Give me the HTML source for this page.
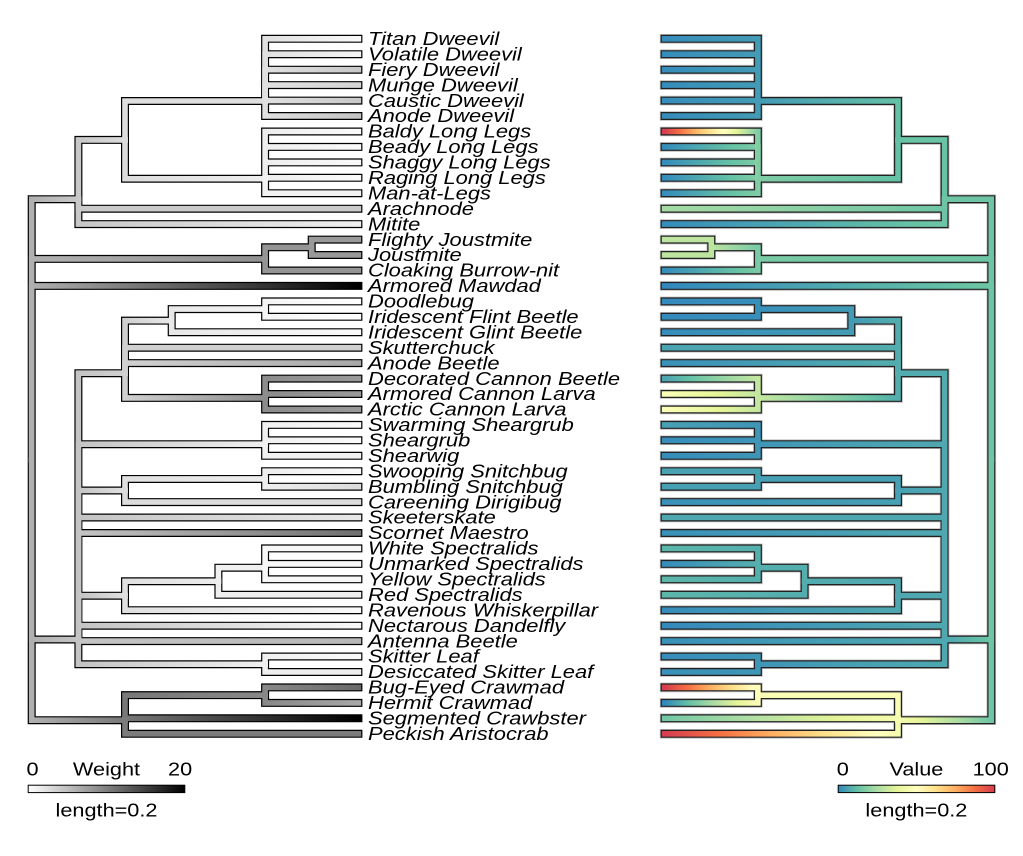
<!DOCTYPE html>
<html><head><meta charset="utf-8"><style>
html,body{margin:0;padding:0;background:#fff;}
svg{display:block;}
</style></head><body>
<svg width="1023" height="856" viewBox="0 0 1023 856" xmlns="http://www.w3.org/2000/svg" xmlns:xlink="http://www.w3.org/1999/xlink">
<defs>
<path id="LB" d="M31.7 459.7V199.2H78.4M31.7 459.7V258.9H265.1M31.7 459.7V285.9H358.4M31.7 459.7V639.5H78.4M31.7 459.7V720.2H125M78.4 199.2V139.9H125M78.4 199.2V208.7H358.4M78.4 199.2V224.1H358.4M125 139.9V101H265.1M125 139.9V178.75H265.1M265.1 101V38.8H358.4M265.1 101V54.2H358.4M265.1 101V69.7H358.4M265.1 101V85.1H358.4M265.1 101V100.6H358.4M265.1 101V116H358.4M265.1 178.75V131.5H358.4M265.1 178.75V146.9H358.4M265.1 178.75V162.4H358.4M265.1 178.75V177.8H358.4M265.1 178.75V193.2H358.4M265.1 258.9V247.3H311.7M265.1 258.9V270.5H358.4M311.7 247.3V239.6H358.4M311.7 247.3V255H358.4M78.4 639.5V373.2H125M78.4 639.5V444.2H265.1M78.4 639.5V490.5H125M78.4 639.5V517.5H358.4M78.4 639.5V533H358.4M78.4 639.5V595.7H125M78.4 639.5V625.7H358.4M78.4 639.5V641.1H358.4M78.4 639.5V664.25H265.1M125 373.2V320.65H171.7M125 373.2V347.7H358.4M125 373.2V363.1H358.4M125 373.2V397.9H265.1M171.7 320.65V309.1H265.1M171.7 320.65V332.2H358.4M265.1 309.1V301.4H358.4M265.1 309.1V316.8H358.4M265.1 397.9V378.6H358.4M265.1 397.9V394H358.4M265.1 397.9V409.5H358.4M265.1 444.2V424.9H358.4M265.1 444.2V440.3H358.4M265.1 444.2V455.8H358.4M125 490.5V478.95H265.1M125 490.5V502.1H358.4M265.1 478.95V471.2H358.4M265.1 478.95V486.7H358.4M125 595.7V581.25H218.4M125 595.7V610.2H358.4M218.4 581.25V567.7H265.1M218.4 581.25V594.8H358.4M265.1 567.7V548.4H358.4M265.1 567.7V563.9H358.4M265.1 567.7V579.3H358.4M265.1 664.25V656.5H358.4M265.1 664.25V672H358.4M125 720.2V695.15H265.1M125 720.2V718.3H358.4M125 720.2V733.8H358.4M265.1 695.15V687.4H358.4M265.1 695.15V702.9H358.4"/>
<path id="RB" d="M991.3 459.7V199.2H944.6M991.3 459.7V258.9H757.9M991.3 459.7V285.9H664.6M991.3 459.7V639.5H944.6M991.3 459.7V720.2H898M944.6 199.2V139.9H898M944.6 199.2V208.7H664.6M944.6 199.2V224.1H664.6M898 139.9V101H757.9M898 139.9V178.75H757.9M757.9 101V38.8H664.6M757.9 101V54.2H664.6M757.9 101V69.7H664.6M757.9 101V85.1H664.6M757.9 101V100.6H664.6M757.9 101V116H664.6M757.9 178.75V131.5H664.6M757.9 178.75V146.9H664.6M757.9 178.75V162.4H664.6M757.9 178.75V177.8H664.6M757.9 178.75V193.2H664.6M757.9 258.9V247.3H711.3M757.9 258.9V270.5H664.6M711.3 247.3V239.6H664.6M711.3 247.3V255H664.6M944.6 639.5V373.2H898M944.6 639.5V444.2H757.9M944.6 639.5V490.5H898M944.6 639.5V517.5H664.6M944.6 639.5V533H664.6M944.6 639.5V595.7H898M944.6 639.5V625.7H664.6M944.6 639.5V641.1H664.6M944.6 639.5V664.25H757.9M898 373.2V320.65H851.3M898 373.2V347.7H664.6M898 373.2V363.1H664.6M898 373.2V397.9H757.9M851.3 320.65V309.1H757.9M851.3 320.65V332.2H664.6M757.9 309.1V301.4H664.6M757.9 309.1V316.8H664.6M757.9 397.9V378.6H664.6M757.9 397.9V394H664.6M757.9 397.9V409.5H664.6M757.9 444.2V424.9H664.6M757.9 444.2V440.3H664.6M757.9 444.2V455.8H664.6M898 490.5V478.95H757.9M898 490.5V502.1H664.6M757.9 478.95V471.2H664.6M757.9 478.95V486.7H664.6M898 595.7V581.25H804.6M898 595.7V610.2H664.6M804.6 581.25V567.7H757.9M804.6 581.25V594.8H664.6M757.9 567.7V548.4H664.6M757.9 567.7V563.9H664.6M757.9 567.7V579.3H664.6M757.9 664.25V656.5H664.6M757.9 664.25V672H664.6M898 720.2V695.15H757.9M898 720.2V718.3H664.6M898 720.2V733.8H664.6M757.9 695.15V687.4H664.6M757.9 695.15V702.9H664.6"/>

<linearGradient id="a1" gradientUnits="userSpaceOnUse" x1="31.7" x2="78.4"><stop offset="0" stop-color="#b0b0b0"/><stop offset="1" stop-color="#c8c8c8"/></linearGradient>
<linearGradient id="a2" gradientUnits="userSpaceOnUse" x1="31.7" x2="265.1"><stop offset="0" stop-color="#b0b0b0"/><stop offset="1" stop-color="#909090"/></linearGradient>
<linearGradient id="a3" gradientUnits="userSpaceOnUse" x1="31.7" x2="358.4"><stop offset="0" stop-color="#b0b0b0"/><stop offset="1" stop-color="#000000"/></linearGradient>
<linearGradient id="a4" gradientUnits="userSpaceOnUse" x1="31.7" x2="78.4"><stop offset="0" stop-color="#b0b0b0"/><stop offset="1" stop-color="#c4c4c4"/></linearGradient>
<linearGradient id="a5" gradientUnits="userSpaceOnUse" x1="31.7" x2="125"><stop offset="0" stop-color="#b0b0b0"/><stop offset="1" stop-color="#787878"/></linearGradient>
<linearGradient id="a6" gradientUnits="userSpaceOnUse" x1="78.4" x2="125"><stop offset="0" stop-color="#c8c8c8"/><stop offset="1" stop-color="#dcdcdc"/></linearGradient>
<linearGradient id="a8" gradientUnits="userSpaceOnUse" x1="78.4" x2="358.4"><stop offset="0" stop-color="#c8c8c8"/><stop offset="1" stop-color="#f0f0f0"/></linearGradient>
<linearGradient id="a10" gradientUnits="userSpaceOnUse" x1="125" x2="265.1"><stop offset="0" stop-color="#dcdcdc"/><stop offset="1" stop-color="#eeeeee"/></linearGradient>
<linearGradient id="d1" gradientUnits="userSpaceOnUse" x1="265.1" x2="358.4"><stop offset="0" stop-color="#e0e0e0"/><stop offset="1" stop-color="#f8f8f8"/></linearGradient>
<linearGradient id="d2" gradientUnits="userSpaceOnUse" x1="265.1" x2="358.4"><stop offset="0" stop-color="#e0e0e0"/><stop offset="1" stop-color="#f4f4f4"/></linearGradient>
<linearGradient id="d3" gradientUnits="userSpaceOnUse" x1="265.1" x2="358.4"><stop offset="0" stop-color="#e0e0e0"/><stop offset="1" stop-color="#c8c8c8"/></linearGradient>
<linearGradient id="d4" gradientUnits="userSpaceOnUse" x1="265.1" x2="358.4"><stop offset="0" stop-color="#e0e0e0"/><stop offset="1" stop-color="#d4d4d4"/></linearGradient>
<linearGradient id="d6" gradientUnits="userSpaceOnUse" x1="265.1" x2="358.4"><stop offset="0" stop-color="#e0e0e0"/><stop offset="1" stop-color="#c4c4c4"/></linearGradient>
<linearGradient id="lg" gradientUnits="userSpaceOnUse" x1="265.1" x2="358.4"><stop offset="0" stop-color="#eeeeee"/><stop offset="1" stop-color="#fafafa"/></linearGradient>
<linearGradient id="m1" gradientUnits="userSpaceOnUse" x1="78.4" x2="125"><stop offset="0" stop-color="#c4c4c4"/><stop offset="1" stop-color="#d0d0d0"/></linearGradient>
<linearGradient id="m2" gradientUnits="userSpaceOnUse" x1="78.4" x2="265.1"><stop offset="0" stop-color="#c4c4c4"/><stop offset="1" stop-color="#f0f0f0"/></linearGradient>
<linearGradient id="m3" gradientUnits="userSpaceOnUse" x1="78.4" x2="125"><stop offset="0" stop-color="#c4c4c4"/><stop offset="1" stop-color="#e0e0e0"/></linearGradient>
<linearGradient id="m4" gradientUnits="userSpaceOnUse" x1="78.4" x2="358.4"><stop offset="0" stop-color="#c4c4c4"/><stop offset="1" stop-color="#e8e8e8"/></linearGradient>
<linearGradient id="m5" gradientUnits="userSpaceOnUse" x1="78.4" x2="358.4"><stop offset="0" stop-color="#c4c4c4"/><stop offset="1" stop-color="#707070"/></linearGradient>
<linearGradient id="m7" gradientUnits="userSpaceOnUse" x1="78.4" x2="358.4"><stop offset="0" stop-color="#c4c4c4"/><stop offset="1" stop-color="#f8f8f8"/></linearGradient>
<linearGradient id="m8" gradientUnits="userSpaceOnUse" x1="78.4" x2="358.4"><stop offset="0" stop-color="#c4c4c4"/><stop offset="1" stop-color="#b8b8b8"/></linearGradient>
<linearGradient id="e1" gradientUnits="userSpaceOnUse" x1="125" x2="171.7"><stop offset="0" stop-color="#d0d0d0"/><stop offset="1" stop-color="#e8e8e8"/></linearGradient>
<linearGradient id="e3" gradientUnits="userSpaceOnUse" x1="125" x2="358.4"><stop offset="0" stop-color="#d0d0d0"/><stop offset="1" stop-color="#a8a8a8"/></linearGradient>
<linearGradient id="e4" gradientUnits="userSpaceOnUse" x1="125" x2="265.1"><stop offset="0" stop-color="#d0d0d0"/><stop offset="1" stop-color="#8c8c8c"/></linearGradient>
<linearGradient id="g1" gradientUnits="userSpaceOnUse" x1="171.7" x2="265.1"><stop offset="0" stop-color="#e8e8e8"/><stop offset="1" stop-color="#f4f4f4"/></linearGradient>
<linearGradient id="g2" gradientUnits="userSpaceOnUse" x1="171.7" x2="358.4"><stop offset="0" stop-color="#e8e8e8"/><stop offset="1" stop-color="#fafafa"/></linearGradient>
<linearGradient id="do" gradientUnits="userSpaceOnUse" x1="265.1" x2="358.4"><stop offset="0" stop-color="#f4f4f4"/><stop offset="1" stop-color="#ffffff"/></linearGradient>
<linearGradient id="ca" gradientUnits="userSpaceOnUse" x1="265.1" x2="358.4"><stop offset="0" stop-color="#8c8c8c"/><stop offset="1" stop-color="#999999"/></linearGradient>
<linearGradient id="sh" gradientUnits="userSpaceOnUse" x1="265.1" x2="358.4"><stop offset="0" stop-color="#f0f0f0"/><stop offset="1" stop-color="#fafafa"/></linearGradient>
<linearGradient id="s1" gradientUnits="userSpaceOnUse" x1="125" x2="265.1"><stop offset="0" stop-color="#e0e0e0"/><stop offset="1" stop-color="#eeeeee"/></linearGradient>
<linearGradient id="sn2" gradientUnits="userSpaceOnUse" x1="265.1" x2="358.4"><stop offset="0" stop-color="#eeeeee"/><stop offset="1" stop-color="#dcdcdc"/></linearGradient>
<linearGradient id="p1" gradientUnits="userSpaceOnUse" x1="125" x2="218.4"><stop offset="0" stop-color="#e0e0e0"/><stop offset="1" stop-color="#ececec"/></linearGradient>
<linearGradient id="p2" gradientUnits="userSpaceOnUse" x1="125" x2="358.4"><stop offset="0" stop-color="#e0e0e0"/><stop offset="1" stop-color="#fafafa"/></linearGradient>
<linearGradient id="c1" gradientUnits="userSpaceOnUse" x1="125" x2="265.1"><stop offset="0" stop-color="#787878"/><stop offset="1" stop-color="#888888"/></linearGradient>
<linearGradient id="c2" gradientUnits="userSpaceOnUse" x1="125" x2="358.4"><stop offset="0" stop-color="#787878"/><stop offset="1" stop-color="#000000"/></linearGradient>
<linearGradient id="c3" gradientUnits="userSpaceOnUse" x1="265.1" x2="358.4"><stop offset="0" stop-color="#888888"/><stop offset="1" stop-color="#6a6a6a"/></linearGradient>
<linearGradient id="c4" gradientUnits="userSpaceOnUse" x1="265.1" x2="358.4"><stop offset="0" stop-color="#888888"/><stop offset="1" stop-color="#a8a8a8"/></linearGradient>

<linearGradient id="r2" gradientUnits="userSpaceOnUse" x1="991.3" x2="757.9"><stop offset="0" stop-color="#6ec5a5"/><stop offset="1" stop-color="#79caa5"/></linearGradient>
<linearGradient id="r3" gradientUnits="userSpaceOnUse" x1="991.3" x2="664.6"><stop offset="0" stop-color="#6ec5a5"/><stop offset=".107" stop-color="#66c2a5"/><stop offset="1" stop-color="#3288bd"/></linearGradient>
<linearGradient id="r4" gradientUnits="userSpaceOnUse" x1="991.3" x2="944.6"><stop offset="0" stop-color="#6ec5a5"/><stop offset=".107" stop-color="#66c2a5"/><stop offset="1" stop-color="#4fa8b0"/></linearGradient>
<linearGradient id="r5" gradientUnits="userSpaceOnUse" x1="991.3" x2="898"><stop offset="0" stop-color="#6ec5a5"/><stop offset=".355" stop-color="#abdda4"/><stop offset=".758" stop-color="#e6f598"/><stop offset="1" stop-color="#f5fbaf"/></linearGradient>
<linearGradient id="r7" gradientUnits="userSpaceOnUse" x1="944.6" x2="664.6"><stop offset="0" stop-color="#6ec5a5"/><stop offset="1" stop-color="#a6dba4"/></linearGradient>
<linearGradient id="r8" gradientUnits="userSpaceOnUse" x1="944.6" x2="664.6"><stop offset="0" stop-color="#6ec5a5"/><stop offset=".115" stop-color="#66c2a5"/><stop offset="1" stop-color="#368dbb"/></linearGradient>
<linearGradient id="r9" gradientUnits="userSpaceOnUse" x1="898" x2="757.9"><stop offset="0" stop-color="#64c0a6"/><stop offset="1" stop-color="#439bb5"/></linearGradient>
<linearGradient id="r10" gradientUnits="userSpaceOnUse" x1="898" x2="757.9"><stop offset="0" stop-color="#64c0a6"/><stop offset=".1" stop-color="#66c2a5"/><stop offset="1" stop-color="#7fcca5"/></linearGradient>
<linearGradient id="rd" gradientUnits="userSpaceOnUse" x1="757.9" x2="664.6"><stop offset="0" stop-color="#439bb5"/><stop offset="1" stop-color="#368dbb"/></linearGradient>
<linearGradient id="rb" gradientUnits="userSpaceOnUse" x1="757.9" x2="664.6"><stop offset="0" stop-color="#7fcca5"/><stop offset=".096" stop-color="#abdda4"/><stop offset=".23" stop-color="#e6f598"/><stop offset=".37" stop-color="#ffffbf"/><stop offset=".53" stop-color="#fee08b"/><stop offset=".69" stop-color="#fdae61"/><stop offset=".845" stop-color="#f46d43"/><stop offset="1" stop-color="#d53e4f"/></linearGradient>
<linearGradient id="rl" gradientUnits="userSpaceOnUse" x1="757.9" x2="664.6"><stop offset="0" stop-color="#7fcca5"/><stop offset=".281" stop-color="#66c2a5"/><stop offset="1" stop-color="#368dbb"/></linearGradient>
<linearGradient id="rk1" gradientUnits="userSpaceOnUse" x1="757.9" x2="711.3"><stop offset="0" stop-color="#79caa5"/><stop offset=".75" stop-color="#abdda4"/><stop offset="1" stop-color="#b9e3a1"/></linearGradient>
<linearGradient id="rk2" gradientUnits="userSpaceOnUse" x1="757.9" x2="664.6"><stop offset="0" stop-color="#79caa5"/><stop offset=".233" stop-color="#66c2a5"/><stop offset="1" stop-color="#368dbb"/></linearGradient>
<linearGradient id="rm2" gradientUnits="userSpaceOnUse" x1="944.6" x2="757.9"><stop offset="0" stop-color="#4fa8b0"/><stop offset="1" stop-color="#3f96b7"/></linearGradient>
<linearGradient id="rm3" gradientUnits="userSpaceOnUse" x1="944.6" x2="898"><stop offset="0" stop-color="#4fa8b0"/><stop offset="1" stop-color="#47a0b3"/></linearGradient>
<linearGradient id="rm5" gradientUnits="userSpaceOnUse" x1="944.6" x2="664.6"><stop offset="0" stop-color="#4fa8b0"/><stop offset="1" stop-color="#3a91b9"/></linearGradient>
<linearGradient id="rm7" gradientUnits="userSpaceOnUse" x1="944.6" x2="664.6"><stop offset="0" stop-color="#4fa8b0"/><stop offset="1" stop-color="#348abc"/></linearGradient>
<linearGradient id="re1" gradientUnits="userSpaceOnUse" x1="898" x2="851.3"><stop offset="0" stop-color="#53adae"/><stop offset="1" stop-color="#439bb5"/></linearGradient>
<linearGradient id="re2" gradientUnits="userSpaceOnUse" x1="898" x2="664.6"><stop offset="0" stop-color="#53adae"/><stop offset="1" stop-color="#4ba4b1"/></linearGradient>
<linearGradient id="re3" gradientUnits="userSpaceOnUse" x1="898" x2="664.6"><stop offset="0" stop-color="#53adae"/><stop offset="1" stop-color="#3a91b9"/></linearGradient>
<linearGradient id="re4" gradientUnits="userSpaceOnUse" x1="898" x2="757.9"><stop offset="0" stop-color="#53adae"/><stop offset=".205" stop-color="#66c2a5"/><stop offset=".773" stop-color="#abdda4"/><stop offset="1" stop-color="#c3e79f"/></linearGradient>
<linearGradient id="rg1" gradientUnits="userSpaceOnUse" x1="851.3" x2="757.9"><stop offset="0" stop-color="#439bb5"/><stop offset="1" stop-color="#388fba"/></linearGradient>
<linearGradient id="rg2" gradientUnits="userSpaceOnUse" x1="851.3" x2="664.6"><stop offset="0" stop-color="#439bb5"/><stop offset="1" stop-color="#368dbb"/></linearGradient>
<linearGradient id="rdo" gradientUnits="userSpaceOnUse" x1="757.9" x2="664.6"><stop offset="0" stop-color="#388fba"/><stop offset="1" stop-color="#348abc"/></linearGradient>
<linearGradient id="rc1" gradientUnits="userSpaceOnUse" x1="757.9" x2="664.6"><stop offset="0" stop-color="#c3e79f"/><stop offset=".208" stop-color="#abdda4"/><stop offset=".729" stop-color="#66c2a5"/><stop offset="1" stop-color="#4ba4b1"/></linearGradient>
<linearGradient id="rc2" gradientUnits="userSpaceOnUse" x1="757.9" x2="664.6"><stop offset="0" stop-color="#c3e79f"/><stop offset=".441" stop-color="#e6f598"/><stop offset="1" stop-color="#f9fdb6"/></linearGradient>
<linearGradient id="rc3" gradientUnits="userSpaceOnUse" x1="757.9" x2="664.6"><stop offset="0" stop-color="#c3e79f"/><stop offset=".417" stop-color="#e6f598"/><stop offset="1" stop-color="#fbfdb9"/></linearGradient>
<linearGradient id="rs1" gradientUnits="userSpaceOnUse" x1="757.9" x2="664.6"><stop offset="0" stop-color="#3f96b7"/><stop offset="1" stop-color="#47a0b3"/></linearGradient>
<linearGradient id="rs2" gradientUnits="userSpaceOnUse" x1="757.9" x2="664.6"><stop offset="0" stop-color="#3f96b7"/><stop offset="1" stop-color="#368dbb"/></linearGradient>
<linearGradient id="rs3" gradientUnits="userSpaceOnUse" x1="757.9" x2="664.6"><stop offset="0" stop-color="#3f96b7"/><stop offset="1" stop-color="#3a91b9"/></linearGradient>
<linearGradient id="rn" gradientUnits="userSpaceOnUse" x1="898" x2="664.6"><stop offset="0" stop-color="#47a0b3"/><stop offset="1" stop-color="#3a91b9"/></linearGradient>
<linearGradient id="rp1" gradientUnits="userSpaceOnUse" x1="898" x2="804.6"><stop offset="0" stop-color="#4fa8b0"/><stop offset="1" stop-color="#53adae"/></linearGradient>
<linearGradient id="rp2" gradientUnits="userSpaceOnUse" x1="898" x2="664.6"><stop offset="0" stop-color="#4fa8b0"/><stop offset="1" stop-color="#368dbb"/></linearGradient>
<linearGradient id="rp3" gradientUnits="userSpaceOnUse" x1="804.6" x2="664.6"><stop offset="0" stop-color="#53adae"/><stop offset="1" stop-color="#5cb6aa"/></linearGradient>
<linearGradient id="rp4" gradientUnits="userSpaceOnUse" x1="757.9" x2="664.6"><stop offset="0" stop-color="#55afad"/><stop offset="1" stop-color="#5cb6aa"/></linearGradient>
<linearGradient id="rp5" gradientUnits="userSpaceOnUse" x1="757.9" x2="664.6"><stop offset="0" stop-color="#55afad"/><stop offset="1" stop-color="#368dbb"/></linearGradient>
<linearGradient id="rx1" gradientUnits="userSpaceOnUse" x1="898" x2="664.6"><stop offset="0" stop-color="#f5fbaf"/><stop offset=".25" stop-color="#e6f598"/><stop offset=".667" stop-color="#abdda4"/><stop offset="1" stop-color="#74c7a5"/></linearGradient>
<linearGradient id="rx2" gradientUnits="userSpaceOnUse" x1="898" x2="664.6"><stop offset="0" stop-color="#f5fbaf"/><stop offset=".091" stop-color="#ffffbf"/><stop offset=".318" stop-color="#fee08b"/><stop offset=".545" stop-color="#fdae61"/><stop offset=".773" stop-color="#f46d43"/><stop offset="1" stop-color="#d53e4f"/></linearGradient>
<linearGradient id="rx3" gradientUnits="userSpaceOnUse" x1="757.9" x2="664.6"><stop offset="0" stop-color="#fbfdb9"/><stop offset=".038" stop-color="#ffffbf"/><stop offset=".279" stop-color="#fee08b"/><stop offset=".519" stop-color="#fdae61"/><stop offset=".76" stop-color="#f46d43"/><stop offset="1" stop-color="#d53e4f"/></linearGradient>
<linearGradient id="rx4" gradientUnits="userSpaceOnUse" x1="757.9" x2="664.6"><stop offset="0" stop-color="#fbfdb9"/><stop offset=".219" stop-color="#e6f598"/><stop offset=".479" stop-color="#abdda4"/><stop offset=".74" stop-color="#66c2a5"/><stop offset="1" stop-color="#3288bd"/></linearGradient>

<linearGradient id="lgL" x1="0" x2="1" y1="0" y2="0"><stop offset="0" stop-color="#ffffff"/><stop offset="1" stop-color="#000000"/></linearGradient>
<linearGradient id="lgR" x1="0" x2="1" y1="0" y2="0"><stop offset="0" stop-color="#3288bd"/><stop offset=".125" stop-color="#66c2a5"/><stop offset=".25" stop-color="#abdda4"/><stop offset=".375" stop-color="#e6f598"/><stop offset=".5" stop-color="#ffffbf"/><stop offset=".625" stop-color="#fee08b"/><stop offset=".75" stop-color="#fdae61"/><stop offset=".875" stop-color="#f46d43"/><stop offset="1" stop-color="#d53e4f"/></linearGradient>
</defs>

<rect width="1023" height="856" fill="#fff"/>

<g fill="none" stroke-linecap="square" stroke-linejoin="miter">
<use href="#LB" xlink:href="#LB" stroke="#000" stroke-width="8"/>
<g stroke-width="5.6">
<path stroke="url(#a1)" d="M31.7 459.7V199.2H78.4"/>
<path stroke="url(#a2)" d="M31.7 459.7V258.9H265.1"/>
<path stroke="url(#a3)" d="M31.7 459.7V285.9H358.4"/>
<path stroke="url(#a4)" d="M31.7 459.7V639.5H78.4"/>
<path stroke="url(#a5)" d="M31.7 459.7V720.2H125"/>
<path stroke="url(#a6)" d="M78.4 199.2V139.9H125"/>
<path stroke="#cacaca" d="M78.4 199.2V208.7H358.4"/>
<path stroke="url(#a8)" d="M78.4 199.2V224.1H358.4"/>
<path stroke="#dedede" d="M125 139.9V101H265.1"/>
<path stroke="url(#a10)" d="M125 139.9V178.75H265.1"/>
<path stroke="url(#d1)" d="M265.1 101V38.8H358.4"/>
<path stroke="url(#d2)" d="M265.1 101V54.2H358.4"/>
<path stroke="url(#d3)" d="M265.1 101V69.7H358.4"/>
<path stroke="url(#d4)" d="M265.1 101V85.1H358.4"/>
<path stroke="url(#d3)" d="M265.1 101V100.6H358.4"/>
<path stroke="url(#d6)" d="M265.1 101V116H358.4"/>
<path stroke="url(#lg)" d="M265.1 178.75V131.5H358.4M265.1 178.75V146.9H358.4M265.1 178.75V162.4H358.4M265.1 178.75V177.8H358.4"/>
<path stroke="#f2f2f2" d="M265.1 178.75V193.2H358.4"/>
<path stroke="#949494" d="M265.1 258.9V247.3H311.7"/>
<path stroke="#959595" d="M265.1 258.9V270.5H358.4"/>
<path stroke="#999999" d="M311.7 247.3V239.6H358.4M311.7 247.3V255H358.4"/>
<path stroke="url(#m1)" d="M78.4 639.5V373.2H125"/>
<path stroke="url(#m2)" d="M78.4 639.5V444.2H265.1"/>
<path stroke="url(#m3)" d="M78.4 639.5V490.5H125"/>
<path stroke="url(#m4)" d="M78.4 639.5V517.5H358.4"/>
<path stroke="url(#m5)" d="M78.4 639.5V533H358.4"/>
<path stroke="url(#m3)" d="M78.4 639.5V595.7H125"/>
<path stroke="url(#m7)" d="M78.4 639.5V625.7H358.4"/>
<path stroke="url(#m8)" d="M78.4 639.5V641.1H358.4"/>
<path stroke="url(#m2)" d="M78.4 639.5V664.25H265.1"/>
<path stroke="url(#e1)" d="M125 373.2V320.65H171.7"/>
<path stroke="#d0d0d0" d="M125 373.2V347.7H358.4"/>
<path stroke="url(#e3)" d="M125 373.2V363.1H358.4"/>
<path stroke="url(#e4)" d="M125 373.2V397.9H265.1"/>
<path stroke="url(#g1)" d="M171.7 320.65V309.1H265.1"/>
<path stroke="url(#g2)" d="M171.7 320.65V332.2H358.4"/>
<path stroke="url(#do)" d="M265.1 309.1V301.4H358.4M265.1 309.1V316.8H358.4"/>
<path stroke="url(#ca)" d="M265.1 397.9V378.6H358.4M265.1 397.9V394H358.4M265.1 397.9V409.5H358.4"/>
<path stroke="url(#sh)" d="M265.1 444.2V424.9H358.4M265.1 444.2V440.3H358.4"/>
<path stroke="#f2f2f2" d="M265.1 444.2V455.8H358.4"/>
<path stroke="url(#s1)" d="M125 490.5V478.95H265.1"/>
<path stroke="#dcdcdc" d="M125 490.5V502.1H358.4"/>
<path stroke="url(#lg)" d="M265.1 478.95V471.2H358.4"/>
<path stroke="url(#sn2)" d="M265.1 478.95V486.7H358.4"/>
<path stroke="url(#p1)" d="M125 595.7V581.25H218.4"/>
<path stroke="url(#p2)" d="M125 595.7V610.2H358.4"/>
<path stroke="#f0f0f0" d="M218.4 581.25V567.7H265.1"/>
<path stroke="#eeeeee" d="M218.4 581.25V594.8H358.4"/>
<path stroke="#f7f7f7" d="M265.1 567.7V548.4H358.4M265.1 567.7V563.9H358.4M265.1 567.7V579.3H358.4"/>
<path stroke="url(#sh)" d="M265.1 664.25V656.5H358.4"/>
<path stroke="#f0f0f0" d="M265.1 664.25V672H358.4"/>
<path stroke="url(#c1)" d="M125 720.2V695.15H265.1"/>
<path stroke="url(#c2)" d="M125 720.2V718.3H358.4"/>
<path stroke="#7c7c7c" d="M125 720.2V733.8H358.4"/>
<path stroke="url(#c3)" d="M265.1 695.15V687.4H358.4"/>
<path stroke="url(#c4)" d="M265.1 695.15V702.9H358.4"/>
</g>
</g>

<g fill="none" stroke-linecap="square" stroke-linejoin="miter">
<use href="#RB" xlink:href="#RB" stroke="#bdbdbd" stroke-width="9.6"/>
<use href="#RB" xlink:href="#RB" stroke="#222" stroke-width="8"/>
<g stroke-width="5.6">
<path stroke="#6ec5a5" d="M991.3 459.7V199.2H944.6"/>
<path stroke="url(#r2)" d="M991.3 459.7V258.9H757.9"/>
<path stroke="url(#r3)" d="M991.3 459.7V285.9H664.6"/>
<path stroke="url(#r4)" d="M991.3 459.7V639.5H944.6"/>
<path stroke="url(#r5)" d="M991.3 459.7V720.2H898"/>
<path stroke="#69c3a5" d="M944.6 199.2V139.9H898"/>
<path stroke="url(#r7)" d="M944.6 199.2V208.7H664.6"/>
<path stroke="url(#r8)" d="M944.6 199.2V224.1H664.6"/>
<path stroke="url(#r9)" d="M898 139.9V101H757.9"/>
<path stroke="url(#r10)" d="M898 139.9V178.75H757.9"/>
<path stroke="url(#rd)" d="M757.9 101V38.8H664.6M757.9 101V54.2H664.6M757.9 101V69.7H664.6M757.9 101V85.1H664.6M757.9 101V100.6H664.6M757.9 101V116H664.6"/>
<path stroke="url(#rl)" d="M757.9 178.75V146.9H664.6M757.9 178.75V162.4H664.6M757.9 178.75V177.8H664.6M757.9 178.75V193.2H664.6"/>
<path stroke="url(#rb)" d="M757.9 178.75V131.5H664.6"/>
<path stroke="url(#rk1)" d="M757.9 258.9V247.3H711.3"/>
<path stroke="url(#rk2)" d="M757.9 258.9V270.5H664.6"/>
<path stroke="#bde5a0" d="M711.3 247.3V239.6H664.6M711.3 247.3V255H664.6"/>
<path stroke="#51abaf" d="M944.6 639.5V373.2H898"/>
<path stroke="url(#rm2)" d="M944.6 639.5V444.2H757.9"/>
<path stroke="url(#rm3)" d="M944.6 639.5V490.5H898"/>
<path stroke="#4fa8b0" d="M944.6 639.5V517.5H664.6"/>
<path stroke="url(#rm5)" d="M944.6 639.5V533H664.6"/>
<path stroke="#4fa8b0" d="M944.6 639.5V595.7H898"/>
<path stroke="url(#rm7)" d="M944.6 639.5V625.7H664.6"/>
<path stroke="url(#rm5)" d="M944.6 639.5V641.1H664.6"/>
<path stroke="url(#rm2)" d="M944.6 639.5V664.25H757.9"/>
<path stroke="url(#re1)" d="M898 373.2V320.65H851.3"/>
<path stroke="url(#re2)" d="M898 373.2V347.7H664.6"/>
<path stroke="url(#re3)" d="M898 373.2V363.1H664.6"/>
<path stroke="url(#re4)" d="M898 373.2V397.9H757.9"/>
<path stroke="url(#rg1)" d="M851.3 320.65V309.1H757.9"/>
<path stroke="url(#rg2)" d="M851.3 320.65V332.2H664.6"/>
<path stroke="url(#rdo)" d="M757.9 309.1V301.4H664.6M757.9 309.1V316.8H664.6"/>
<path stroke="url(#rc1)" d="M757.9 397.9V378.6H664.6"/>
<path stroke="url(#rc2)" d="M757.9 397.9V394H664.6"/>
<path stroke="url(#rc3)" d="M757.9 397.9V409.5H664.6"/>
<path stroke="url(#rs1)" d="M757.9 444.2V424.9H664.6"/>
<path stroke="url(#rs2)" d="M757.9 444.2V440.3H664.6M757.9 444.2V455.8H664.6"/>
<path stroke="#47a0b3" d="M898 490.5V478.95H757.9"/>
<path stroke="url(#rn)" d="M898 490.5V502.1H664.6"/>
<path stroke="#49a2b2" d="M757.9 478.95V471.2H664.6"/>
<path stroke="#47a0b3" d="M757.9 478.95V486.7H664.6"/>
<path stroke="url(#rp1)" d="M898 595.7V581.25H804.6"/>
<path stroke="url(#rp2)" d="M898 595.7V610.2H664.6"/>
<path stroke="#54aead" d="M804.6 581.25V567.7H757.9"/>
<path stroke="url(#rp3)" d="M804.6 581.25V594.8H664.6"/>
<path stroke="url(#rp4)" d="M757.9 567.7V548.4H664.6M757.9 567.7V579.3H664.6"/>
<path stroke="url(#rp5)" d="M757.9 567.7V563.9H664.6"/>
<path stroke="url(#rs2)" d="M757.9 664.25V656.5H664.6"/>
<path stroke="url(#rs3)" d="M757.9 664.25V672H664.6"/>
<path stroke="#f8fcb4" d="M898 720.2V695.15H757.9"/>
<path stroke="url(#rx1)" d="M898 720.2V718.3H664.6"/>
<path stroke="url(#rx2)" d="M898 720.2V733.8H664.6"/>
<path stroke="url(#rx3)" d="M757.9 695.15V687.4H664.6"/>
<path stroke="url(#rx4)" d="M757.9 695.15V702.9H664.6"/>
</g>
</g>

<g transform="translate(368,0) scale(1.185,1)" font-family="'Liberation Sans', Arial, sans-serif" font-style="italic" font-size="18.5" fill="#000">
<text x="0" y="45">Titan Dweevil</text>
<text x="0" y="60.4">Volatile Dweevil</text>
<text x="0" y="75.9">Fiery Dweevil</text>
<text x="0" y="91.3">Munge Dweevil</text>
<text x="0" y="106.8">Caustic Dweevil</text>
<text x="0" y="122.2">Anode Dweevil</text>
<text x="0" y="137.7">Baldy Long Legs</text>
<text x="0" y="153.1">Beady Long Legs</text>
<text x="0" y="168.6">Shaggy Long Legs</text>
<text x="0" y="184">Raging Long Legs</text>
<text x="0" y="199.4">Man-at-Legs</text>
<text x="0" y="214.9">Arachnode</text>
<text x="0" y="230.3">Mitite</text>
<text x="0" y="245.8">Flighty Joustmite</text>
<text x="0" y="261.2">Joustmite</text>
<text x="0" y="276.7">Cloaking Burrow-nit</text>
<text x="0" y="292.1">Armored Mawdad</text>
<text x="0" y="307.6">Doodlebug</text>
<text x="0" y="323">Iridescent Flint Beetle</text>
<text x="0" y="338.4">Iridescent Glint Beetle</text>
<text x="0" y="353.9">Skutterchuck</text>
<text x="0" y="369.3">Anode Beetle</text>
<text x="0" y="384.8">Decorated Cannon Beetle</text>
<text x="0" y="400.2">Armored Cannon Larva</text>
<text x="0" y="415.7">Arctic Cannon Larva</text>
<text x="0" y="431.1">Swarming Sheargrub</text>
<text x="0" y="446.5">Sheargrub</text>
<text x="0" y="462">Shearwig</text>
<text x="0" y="477.4">Swooping Snitchbug</text>
<text x="0" y="492.9">Bumbling Snitchbug</text>
<text x="0" y="508.3">Careening Dirigibug</text>
<text x="0" y="523.7">Skeeterskate</text>
<text x="0" y="539.2">Scornet Maestro</text>
<text x="0" y="554.6">White Spectralids</text>
<text x="0" y="570.1">Unmarked Spectralids</text>
<text x="0" y="585.5">Yellow Spectralids</text>
<text x="0" y="601">Red Spectralids</text>
<text x="0" y="616.4">Ravenous Whiskerpillar</text>
<text x="0" y="631.9">Nectarous Dandelfly</text>
<text x="0" y="647.3">Antenna Beetle</text>
<text x="0" y="662.7">Skitter Leaf</text>
<text x="0" y="678.2">Desiccated Skitter Leaf</text>
<text x="0" y="693.6">Bug-Eyed Crawmad</text>
<text x="0" y="709.1">Hermit Crawmad</text>
<text x="0" y="724.5">Segmented Crawbster</text>
<text x="0" y="740">Peckish Aristocrab</text>
</g>

<rect x="28.2" y="785.2" width="156.6" height="7.4" fill="url(#lgL)" stroke="#000" stroke-width="1"/>
<rect x="838.2" y="785.2" width="156.6" height="7.4" fill="url(#lgR)" stroke="#000" stroke-width="1"/>
<g font-family="'Liberation Sans', Arial, sans-serif" font-size="18.5" fill="#000">
<text transform="translate(26.5,775.7) scale(1.173,1)">0</text>
<text transform="translate(106.5,775.7) scale(1.173,1)" text-anchor="middle">Weight</text>
<text transform="translate(168,775.7) scale(1.173,1)">20</text>
<text transform="translate(106.5,816.7) scale(1.173,1)" text-anchor="middle">length=0.2</text>
<text transform="translate(836.8,775.7) scale(1.173,1)">0</text>
<text transform="translate(916.4,775.7) scale(1.173,1)" text-anchor="middle">Value</text>
<text transform="translate(972.6,775.7) scale(1.173,1)">100</text>
<text transform="translate(916.4,816.7) scale(1.173,1)" text-anchor="middle">length=0.2</text>
</g>
</svg>
</body></html>
